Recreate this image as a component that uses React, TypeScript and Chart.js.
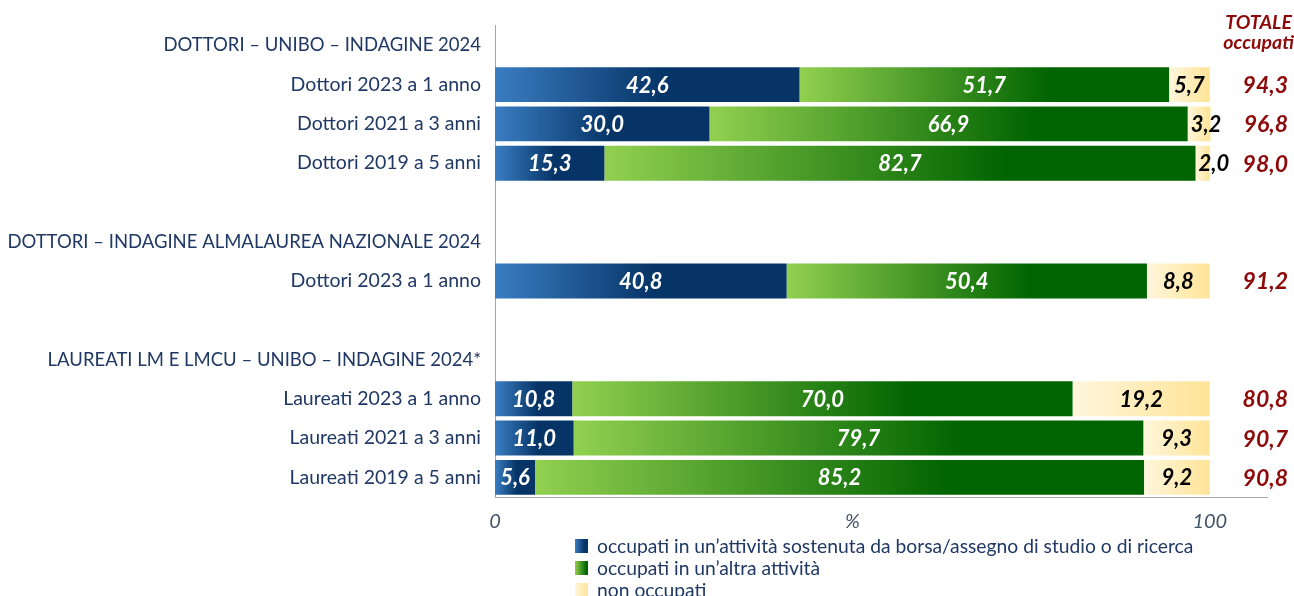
import React, { useEffect, useRef } from "react";
import { Chart, registerables } from "chart.js";

Chart.register(...registerables);

const categories = [
  "DOTTORI – UNIBO – INDAGINE 2024",
  "Dottori 2023 a 1 anno",
  "Dottori 2021 a 3 anni",
  "Dottori 2019 a 5 anni",
  "",
  "DOTTORI – INDAGINE ALMALAUREA NAZIONALE 2024",
  "Dottori 2023 a 1 anno",
  "",
  "LAUREATI LM E LMCU – UNIBO – INDAGINE 2024*",
  "Laureati 2023 a 1 anno",
  "Laureati 2021 a 3 anni",
  "Laureati 2019 a 5 anni",
];
const headerRows = [0, 5, 8];
const borsa = [null, 42.6, 30.0, 15.3, null, null, 40.8, null, null, 10.8, 11.0, 5.6];
const altra = [null, 51.7, 66.9, 82.7, null, null, 50.4, null, null, 70.0, 79.7, 85.2];
const nonOccupati = [null, 5.7, 3.2, 2.0, null, null, 8.8, null, null, 19.2, 9.3, 9.2];
const totale = [null, 94.3, 96.8, 98.0, null, null, 91.2, null, null, 80.8, 90.7, 90.8];
const xTickValues = [0, 50, 100];
const xTickLabels = ["0", "%", "100"];
const legendLabels = [
  "occupati in un’attività sostenuta da borsa/assegno di studio o di ricerca",
  "occupati in un’altra attività",
  "non occupati",
];
const totaleHeader = ["TOTALE", "occupati"];

const FONT = "Lato, 'Liberation Sans', sans-serif";
const NAVY = "#1f3864";
const RED = "#8e0a0a";

const series = [borsa, altra, nonOccupati];
const gradStops: [number, string][][] = [
  [[0, "#3a7dc2"], [0.55, "#063466"], [1, "#063466"]],
  [[0, "#92d050"], [0.68, "#006400"], [1, "#006400"]],
  [[0, "#fff6dc"], [1, "#ffe497"]],
];

const fmt = (v: number) => v.toFixed(1).replace(".", ",");

function segGradient(ctx: any, di: number) {
  const stops = gradStops[di];
  const chart = ctx.chart;
  const fallback = stops[stops.length - 1][1];
  if (!chart.chartArea || ctx.type !== "data" || !chart.scales.x) return fallback;
  const i = ctx.dataIndex;
  let start = 0;
  for (let k = 0; k < di; k++) start += series[k][i] ?? 0;
  const end = start + (series[di][i] ?? 0);
  const sx = chart.scales.x;
  const x0 = sx.getPixelForValue(start);
  const x1 = sx.getPixelForValue(end);
  if (!(x1 > x0)) return fallback;
  const g = chart.ctx.createLinearGradient(x0, 0, x1, 0);
  stops.forEach(([o, c]) => g.addColorStop(o, c));
  return g;
}

const overlayPlugin = {
  id: "overlay",
  afterDatasetsDraw(chart: any) {
    const ctx = chart.ctx;
    ctx.save();
    ctx.font = `italic bold 22px ${FONT}`;
    ctx.textBaseline = "middle";
    chart.data.datasets.forEach((ds: any, di: number) => {
      const meta = chart.getDatasetMeta(di);
      meta.data.forEach((el: any, i: number) => {
        const v = ds.data[i];
        if (v == null) return;
        const { x, base, y } = el.getProps(["x", "base", "y"], true);
        const txt = fmt(v);
        const w = ctx.measureText(txt).width;
        let cx = (x + base) / 2;
        if (di === 2) cx = Math.max(cx, Math.min(x, base) + w / 2 + 3);
        ctx.textAlign = "center";
        ctx.fillStyle = di === 2 ? "#000000" : "#ffffff";
        ctx.fillText(txt, cx, y + 1);
      });
    });
    // totals column
    const sy = chart.scales.y;
    ctx.fillStyle = RED;
    ctx.textAlign = "right";
    ctx.font = `italic bold 23px ${FONT}`;
    totale.forEach((v, i) => {
      if (v == null) return;
      ctx.fillText(fmt(v), 1288, sy.getPixelForValue(i) + 1);
    });
    ctx.font = `italic bold 19.5px ${FONT}`;
    ctx.fillText(totaleHeader[0], 1292, 23);
    ctx.fillText(totaleHeader[1], 1294, 43);
    // legend
    ctx.font = `19.3px ${FONT}`;
    ctx.textAlign = "left";
    legendLabels.forEach((lab, k) => {
      const yy = 546 + k * 22;
      const g = ctx.createLinearGradient(575, 0, 588, 0);
      gradStops[k].forEach(([o, c]) => g.addColorStop(Math.min(1, o * 1.3), c));
      ctx.fillStyle = g;
      ctx.fillRect(575, yy - 7, 13, 14);
      ctx.fillStyle = NAVY;
      ctx.fillText(lab, 597, yy + 1);
    });
    ctx.restore();
  },
};

export default function App() {
  const ref = useRef<HTMLCanvasElement | null>(null);
  useEffect(() => {
    document.body.style.margin = "0";
    const canvas = ref.current;
    if (!canvas) return;
    const chart = new Chart(canvas, {
      type: "bar",
      data: {
        labels: categories,
        datasets: series.map((data, di) => ({
          label: legendLabels[di],
          data: data as any,
          backgroundColor: (c: any) => segGradient(c, di),
          borderWidth: 0,
          categoryPercentage: 1,
          barPercentage: 0.89,
        })),
      },
      options: {
        indexAxis: "y",
        responsive: false,
        animation: false,
        devicePixelRatio: 1,
        layout: { padding: { top: 22, right: 27, left: 0, bottom: 0 } },
        plugins: { legend: { display: false }, tooltip: { enabled: false } },
        scales: {
          x: {
            stacked: true,
            min: 0,
            max: 108,
            afterBuildTicks: (s: any) => {
              s.ticks = xTickValues.map((v) => ({ value: v }));
            },
            afterFit: (s: any) => {
              s.height = 99;
            },
            ticks: {
              callback: (v: any) => xTickLabels[xTickValues.indexOf(Number(v))] ?? "",
              font: { family: FONT, size: 20, style: "italic" },
              color: "#44546a",
              padding: 13,
              maxRotation: 0,
              autoSkip: false,
            },
            grid: { display: false, drawTicks: false },
            border: { display: true, color: "#a6a6a6", width: 1 },
          },
          y: {
            stacked: true,
            afterFit: (s: any) => {
              s.width = 495;
            },
            ticks: {
              font: (c: any) => ({
                family: FONT,
                size: headerRows.includes(c.index) ? 18.5 : 19.5,
              }),
              color: NAVY,
              padding: 14,
              autoSkip: false,
            },
            grid: { display: false, drawTicks: false },
            border: { display: true, color: "#a6a6a6", width: 1 },
          },
        },
      },
      plugins: [overlayPlugin],
    });
    return () => chart.destroy();
  }, []);
  return <canvas ref={ref} width={1294} height={596} style={{ display: "block" }} />;
}
